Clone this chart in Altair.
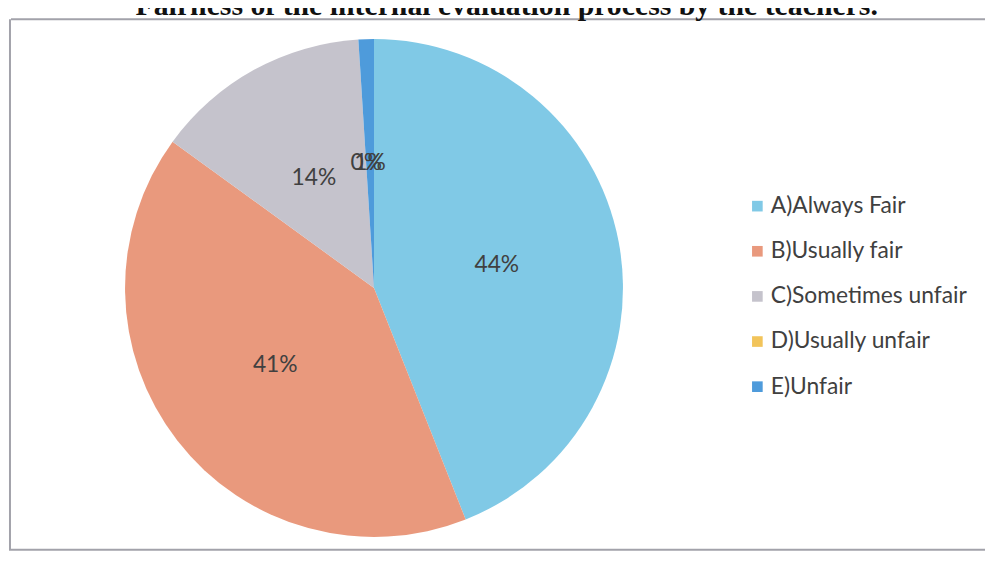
import altair as alt
import pandas as pd

categories = ["A)Always Fair", "B)Usually fair", "C)Sometimes unfair", "D)Usually unfair", "E)Unfair"]
values = [44, 41, 14, 0, 1]
labels = ["44%", "41%", "14%", "0%", "1%"]
colors = ["#80C9E6", "#E9997D", "#C5C3CC", "#F2C45A", "#4E9BDB"]
title_text = "Fairness of the internal evaluation process by the teachers."

df = pd.DataFrame({
    "category": categories,
    "value": values,
    "label": labels,
    "order": list(range(len(categories))),
})

W, H = 985, 554
cx, cy = 369, 280

base = alt.Chart(df).encode(
    theta=alt.Theta("value:Q", stack=True),
    order=alt.Order("order:Q"),
)

pie = base.mark_arc(outerRadius=251).encode(
    x=alt.value(cx),
    y=alt.value(cy),
    color=alt.Color(
        "category:N",
        scale=alt.Scale(domain=categories, range=colors),
        legend=alt.Legend(
            title=None,
            orient="none",
            legendX=744,
            legendY=186,
            symbolType="square",
            symbolSize=115,
            symbolStrokeWidth=0,
            labelFontSize=23,
            labelFont="Lato",
            labelColor="#404040",
            labelOffset=2,
            labelLimit=0,
            rowPadding=21.5,
        ),
    ),
)

text = base.mark_text(radius=126, fontSize=23, font="Lato", color="#404040").encode(
    x=alt.value(cx),
    y=alt.value(cy),
    text="label:N",
)

one = pd.DataFrame({"k": [0]})
frame_color = "#A2A2AA"
top_rule = alt.Chart(one).mark_rule(color=frame_color, strokeWidth=2).encode(
    x=alt.value(3), x2=alt.value(985), y=alt.value(9)
)
bottom_rule = alt.Chart(one).mark_rule(color=frame_color, strokeWidth=2).encode(
    x=alt.value(1), x2=alt.value(985), y=alt.value(544)
)
left_rule = alt.Chart(one).mark_rule(color=frame_color, strokeWidth=2).encode(
    x=alt.value(2), y=alt.value(9), y2=alt.value(544)
)

title = alt.Chart(one).mark_text(
    align="right", baseline="alphabetic", font="Liberation Serif",
    fontWeight="bold", fontSize=30, color="#111111"
).encode(x=alt.value(877), y=alt.value(5), text=alt.value(title_text))

chart = alt.layer(top_rule, bottom_rule, left_rule, title, pie, text).properties(
    width=W, height=H, padding=0,
    autosize=alt.AutoSizeParams(type="none"),
).configure_view(stroke=None)

chart.save("out.html", embed_options={"renderer": "svg", "actions": False})
